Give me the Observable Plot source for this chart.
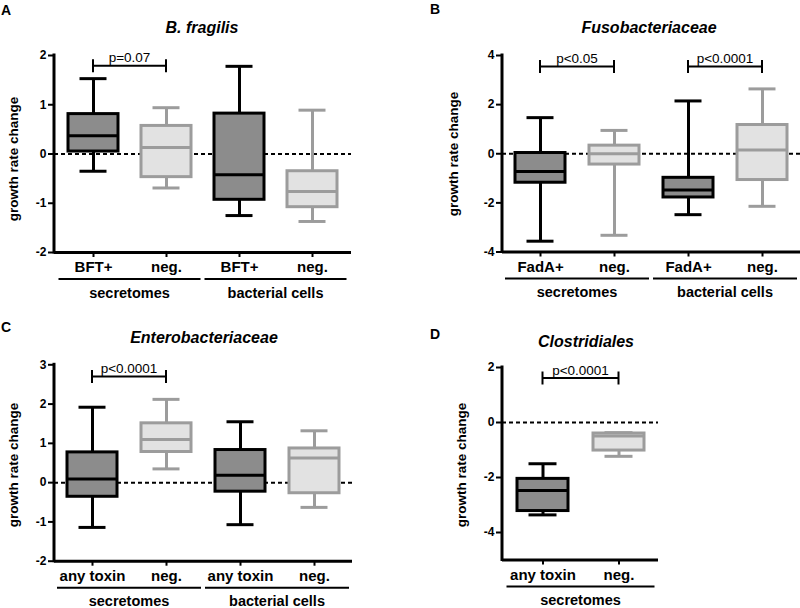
<!DOCTYPE html>
<html><head><meta charset="utf-8">
<script src="https://cdn.jsdelivr.net/npm/d3@7"></script>
<script src="https://cdn.jsdelivr.net/npm/@observablehq/plot@0.6"></script>
<style>
body{margin:0;background:#fff}
#root{position:relative;width:800px;height:608px;overflow:hidden;background:#fff}
.panel{position:absolute;width:400px}
.panel svg{display:block}
.panel svg text{font-family:"Liberation Sans",Arial,sans-serif}
</style></head><body><div id="root"></div>
<script>
// ---------------- data ----------------
const titles = ["B. fragilis", "Fusobacteriaceae", "Enterobacteriaceae", "Clostridiales"];
const letters = ["A", "B", "C", "D"];

// Panel A – B. fragilis
const aKeys = ["sec-BFT+", "sec-neg", "bact-BFT+", "bact-neg"];
const aLabels = ["BFT+", "neg.", "BFT+", "neg."];
const aGroups = ["secretomes", "secretomes", "bacterial cells", "bacterial cells"];
const aTones = ["dark", "light", "dark", "light"];
const aMin = [-0.35, -0.69, -1.25, -1.37];
const aQ1 = [0.05, -0.47, -0.93, -1.08];
const aMedian = [0.37, 0.13, -0.42, -0.76];
const aQ3 = [0.81, 0.57, 0.82, -0.35];
const aMax = [1.53, 0.94, 1.78, 0.89];
const aYDomain = [-2, 2];
const aTicks = [-2, -1, 0, 1, 2];
const aPvals = [{from: 0, to: 1, y: 1.78, label: "p=0.07"}];

// Panel B – Fusobacteriaceae
const bKeys = ["sec-FadA+", "sec-neg", "bact-FadA+", "bact-neg"];
const bLabels = ["FadA+", "neg.", "FadA+", "neg."];
const bGroups = ["secretomes", "secretomes", "bacterial cells", "bacterial cells"];
const bTones = ["dark", "light", "dark", "light"];
const bMin = [-3.56, -3.32, -2.48, -2.14];
const bQ1 = [-1.18, -0.44, -1.78, -1.07];
const bMedian = [-0.72, 0.0, -1.48, 0.15];
const bQ3 = [0.03, 0.33, -0.98, 1.17];
const bMax = [1.47, 0.95, 2.15, 2.64];
const bYDomain = [-4, 4];
const bTicks = [-4, -2, 0, 2, 4];
const bPvals = [{from: 0, to: 1, y: 3.53, label: "p<0.05"}, {from: 2, to: 3, y: 3.53, label: "p<0.0001"}];

// Panel C – Enterobacteriaceae
const cKeys = ["sec-any", "sec-neg", "bact-any", "bact-neg"];
const cLabels = ["any toxin", "neg.", "any toxin", "neg."];
const cGroups = ["secretomes", "secretomes", "bacterial cells", "bacterial cells"];
const cTones = ["dark", "light", "dark", "light"];
const cMin = [-1.14, 0.35, -1.07, -0.63];
const cQ1 = [-0.36, 0.78, -0.23, -0.27];
const cMedian = [0.09, 1.10, 0.19, 0.63];
const cQ3 = [0.77, 1.51, 0.83, 0.87];
const cMax = [1.92, 2.12, 1.55, 1.32];
const cYDomain = [-2, 3];
const cTicks = [-2, -1, 0, 1, 2, 3];
const cPvals = [{from: 0, to: 1, y: 2.69, label: "p<0.0001"}];

// Panel D – Clostridiales
const dKeys = ["sec-any", "sec-neg"];
const dLabels = ["any toxin", "neg."];
const dGroups = ["secretomes", "secretomes"];
const dTones = ["dark", "light"];
const dMin = [-3.36, -1.23];
const dQ1 = [-3.22, -1.02];
const dMedian = [-2.47, -0.49];
const dQ3 = [-2.05, -0.40];
const dMax = [-1.50, -0.37];
const dYDomain = [-5, 2];
const dTicks = [-4, -2, 0, 2];
const dPvals = [{from: 0, to: 1, y: 1.6, label: "p<0.0001"}];

const yLabel = "growth rate change";

// ---------------- styling / layout ----------------
const COLORS = {dark: {fill: "#8c8c8c", stroke: "#000000"}, light: {fill: "#e2e2e2", stroke: "#9c9c9c"}};
const FONT = '"Liberation Sans", Arial, sans-serif';

const panels = [
  {keys: aKeys, labels: aLabels, groups: aGroups, tones: aTones, min: aMin, q1: aQ1, median: aMedian, q3: aQ3, max: aMax, yDomain: aYDomain, ticks: aTicks, pvals: aPvals,
   L: {x: 0, y: 0, h: 300, left: 54, right: 351, top: 55, bottom: 252, pi: 0.32, po: 0.17, title: [202, 33], letter: [6, 15], ylab: [18, 159]}},
  {keys: bKeys, labels: bLabels, groups: bGroups, tones: bTones, min: bMin, q1: bQ1, median: bMedian, q3: bQ3, max: bMax, yDomain: bYDomain, ticks: bTicks, pvals: bPvals,
   L: {x: 400, y: 0, h: 300, left: 102, right: 400, top: 55, bottom: 251.5, pi: 0.32, po: 0.17, title: [249, 33], letter: [35, 14], ylab: [58, 154]}},
  {keys: cKeys, labels: cLabels, groups: cGroups, tones: cTones, min: cMin, q1: cQ1, median: cMedian, q3: cQ3, max: cMax, yDomain: cYDomain, ticks: cTicks, pvals: cPvals,
   L: {x: 0, y: 300, h: 308, left: 54, right: 352, top: 64.3, bottom: 260.7, pi: 0.32, po: 0.17, title: [204, 43], letter: [6, 32], ylab: [18, 165]}},
  {keys: dKeys, labels: dLabels, groups: dGroups, tones: dTones, min: dMin, q1: dQ1, median: dMedian, q3: dQ3, max: dMax, yDomain: dYDomain, ticks: dTicks, pvals: dPvals,
   L: {x: 400, y: 300, h: 308, left: 102, right: 258, top: 67, bottom: 259.5, pi: 0.33, po: 0.19, title: [186, 46.5], letter: [35, 39], ylab: [66, 165]}}
];

const root = document.getElementById("root");

panels.forEach((d, pi) => {
  const L = d.L;
  const rows = d.keys.map((k, i) => ({key: k, label: d.labels[i], group: d.groups[i], tone: d.tones[i],
    min: d.min[i], q1: d.q1[i], median: d.median[i], q3: d.q3[i], max: d.max[i]}));
  const labelOf = new Map(rows.map(r => [r.key, r.label]));
  const fill = r => COLORS[r.tone].fill;
  const stroke = r => COLORS[r.tone].stroke;
  const CAP = 11.5;

  const plot = Plot.plot({
    width: 400, height: L.h,
    marginLeft: L.left, marginRight: 400 - L.right, marginTop: L.top, marginBottom: L.h - L.bottom,
    style: {fontFamily: FONT, fontSize: "12px", color: "black", background: "white", overflow: "visible"},
    x: {type: "band", domain: d.keys, paddingInner: L.pi, paddingOuter: L.po, align: 0.5, axis: null},
    y: {domain: d.yDomain, axis: null},
    marks: [
      Plot.ruleY([0], {stroke: "black", strokeWidth: 2, strokeDasharray: "4,3"}),
      Plot.ruleX(rows, {x: "key", y1: "min", y2: "max", stroke, strokeWidth: 3}),
      Plot.tickY(rows, {x: "key", y: "max", stroke, strokeWidth: 3, insetLeft: CAP, insetRight: CAP}),
      Plot.tickY(rows, {x: "key", y: "min", stroke, strokeWidth: 3, insetLeft: CAP, insetRight: CAP}),
      Plot.barY(rows, {x: "key", y1: "q1", y2: "q3", fill, stroke, strokeWidth: 3}),
      Plot.tickY(rows, {x: "key", y: "median", stroke, strokeWidth: 3}),
      Plot.ruleY([d.yDomain[0]], {stroke: "black", strokeWidth: 3}),
      Plot.axisY({ticks: d.ticks, tickSize: 6, tickPadding: 2, fontSize: 12, fontWeight: "bold", strokeWidth: 2, label: null, tickFormat: v => String(v)}),
      Plot.axisX({tickSize: 5, tickPadding: 4, fontSize: 15, fontWeight: "bold", strokeWidth: 2, label: null, tickFormat: k => labelOf.get(k)})
    ]
  });

  const x = plot.scale("x");
  const y = plot.scale("y");
  const bw = x.bandwidth;
  const cx = k => x.apply(k) + bw / 2;
  const step = d.keys.length > 1 ? x.apply(d.keys[1]) - x.apply(d.keys[0]) : bw;
  const svg = d3.select(plot);

  // left axis line
  svg.append("line").attr("x1", L.left).attr("x2", L.left)
    .attr("y1", y.apply(d.yDomain[1]) - 1.5).attr("y2", y.apply(d.yDomain[0]) + 1.5)
    .attr("stroke", "black").attr("stroke-width", 3);

  // group lines + labels
  const groupNames = Array.from(new Set(d.groups));
  const yAxisPx = y.apply(d.yDomain[0]);
  groupNames.forEach(g => {
    const ks = rows.filter(r => r.group === g).map(r => r.key);
    const x1 = cx(ks[0]) - step / 2 + 2, x2 = cx(ks[ks.length - 1]) + step / 2 - 2;
    svg.append("line").attr("x1", x1).attr("x2", x2).attr("y1", yAxisPx + 27).attr("y2", yAxisPx + 27)
      .attr("stroke", "black").attr("stroke-width", 2);
    svg.append("text").attr("x", (x1 + x2) / 2).attr("y", yAxisPx + 45.5).attr("text-anchor", "middle")
      .attr("font-family", FONT).attr("font-size", 14.5).attr("font-weight", "bold").text(g);
  });

  // p-value brackets
  d.pvals.forEach(p => {
    const x1 = cx(d.keys[p.from]), x2 = cx(d.keys[p.to]), yy = y.apply(p.y);
    const g = svg.append("g").attr("stroke", "black").attr("stroke-width", 2);
    g.append("line").attr("x1", x1).attr("x2", x2).attr("y1", yy).attr("y2", yy);
    g.append("line").attr("x1", x1).attr("x2", x1).attr("y1", yy - 6.5).attr("y2", yy + 6.5);
    g.append("line").attr("x1", x2).attr("x2", x2).attr("y1", yy - 6.5).attr("y2", yy + 6.5);
    svg.append("text").attr("x", (x1 + x2) / 2).attr("y", yy - 3.5).attr("text-anchor", "middle")
      .attr("font-family", FONT).attr("font-size", 13.5).attr("font-weight", "normal").text(p.label);
  });

  // title, panel letter, y label
  svg.append("text").attr("x", L.title[0]).attr("y", L.title[1]).attr("text-anchor", "middle")
    .attr("font-family", FONT).attr("font-size", 16).attr("font-weight", "bold").attr("font-style", "italic").text(titles[pi]);
  svg.append("text").attr("x", L.letter[0]).attr("y", L.letter[1])
    .attr("font-family", FONT).attr("font-size", 14).attr("font-weight", "bold").text(letters[pi]);
  svg.append("text").attr("transform", `translate(${L.ylab[0]},${L.ylab[1]}) rotate(-90)`).attr("text-anchor", "middle")
    .attr("font-family", FONT).attr("font-size", 13.5).attr("font-weight", "bold").text(yLabel);

  const div = document.createElement("div");
  div.className = "panel";
  div.style.left = L.x + "px";
  div.style.top = L.y + "px";
  div.appendChild(plot);
  root.appendChild(div);
});
</script></body></html>
